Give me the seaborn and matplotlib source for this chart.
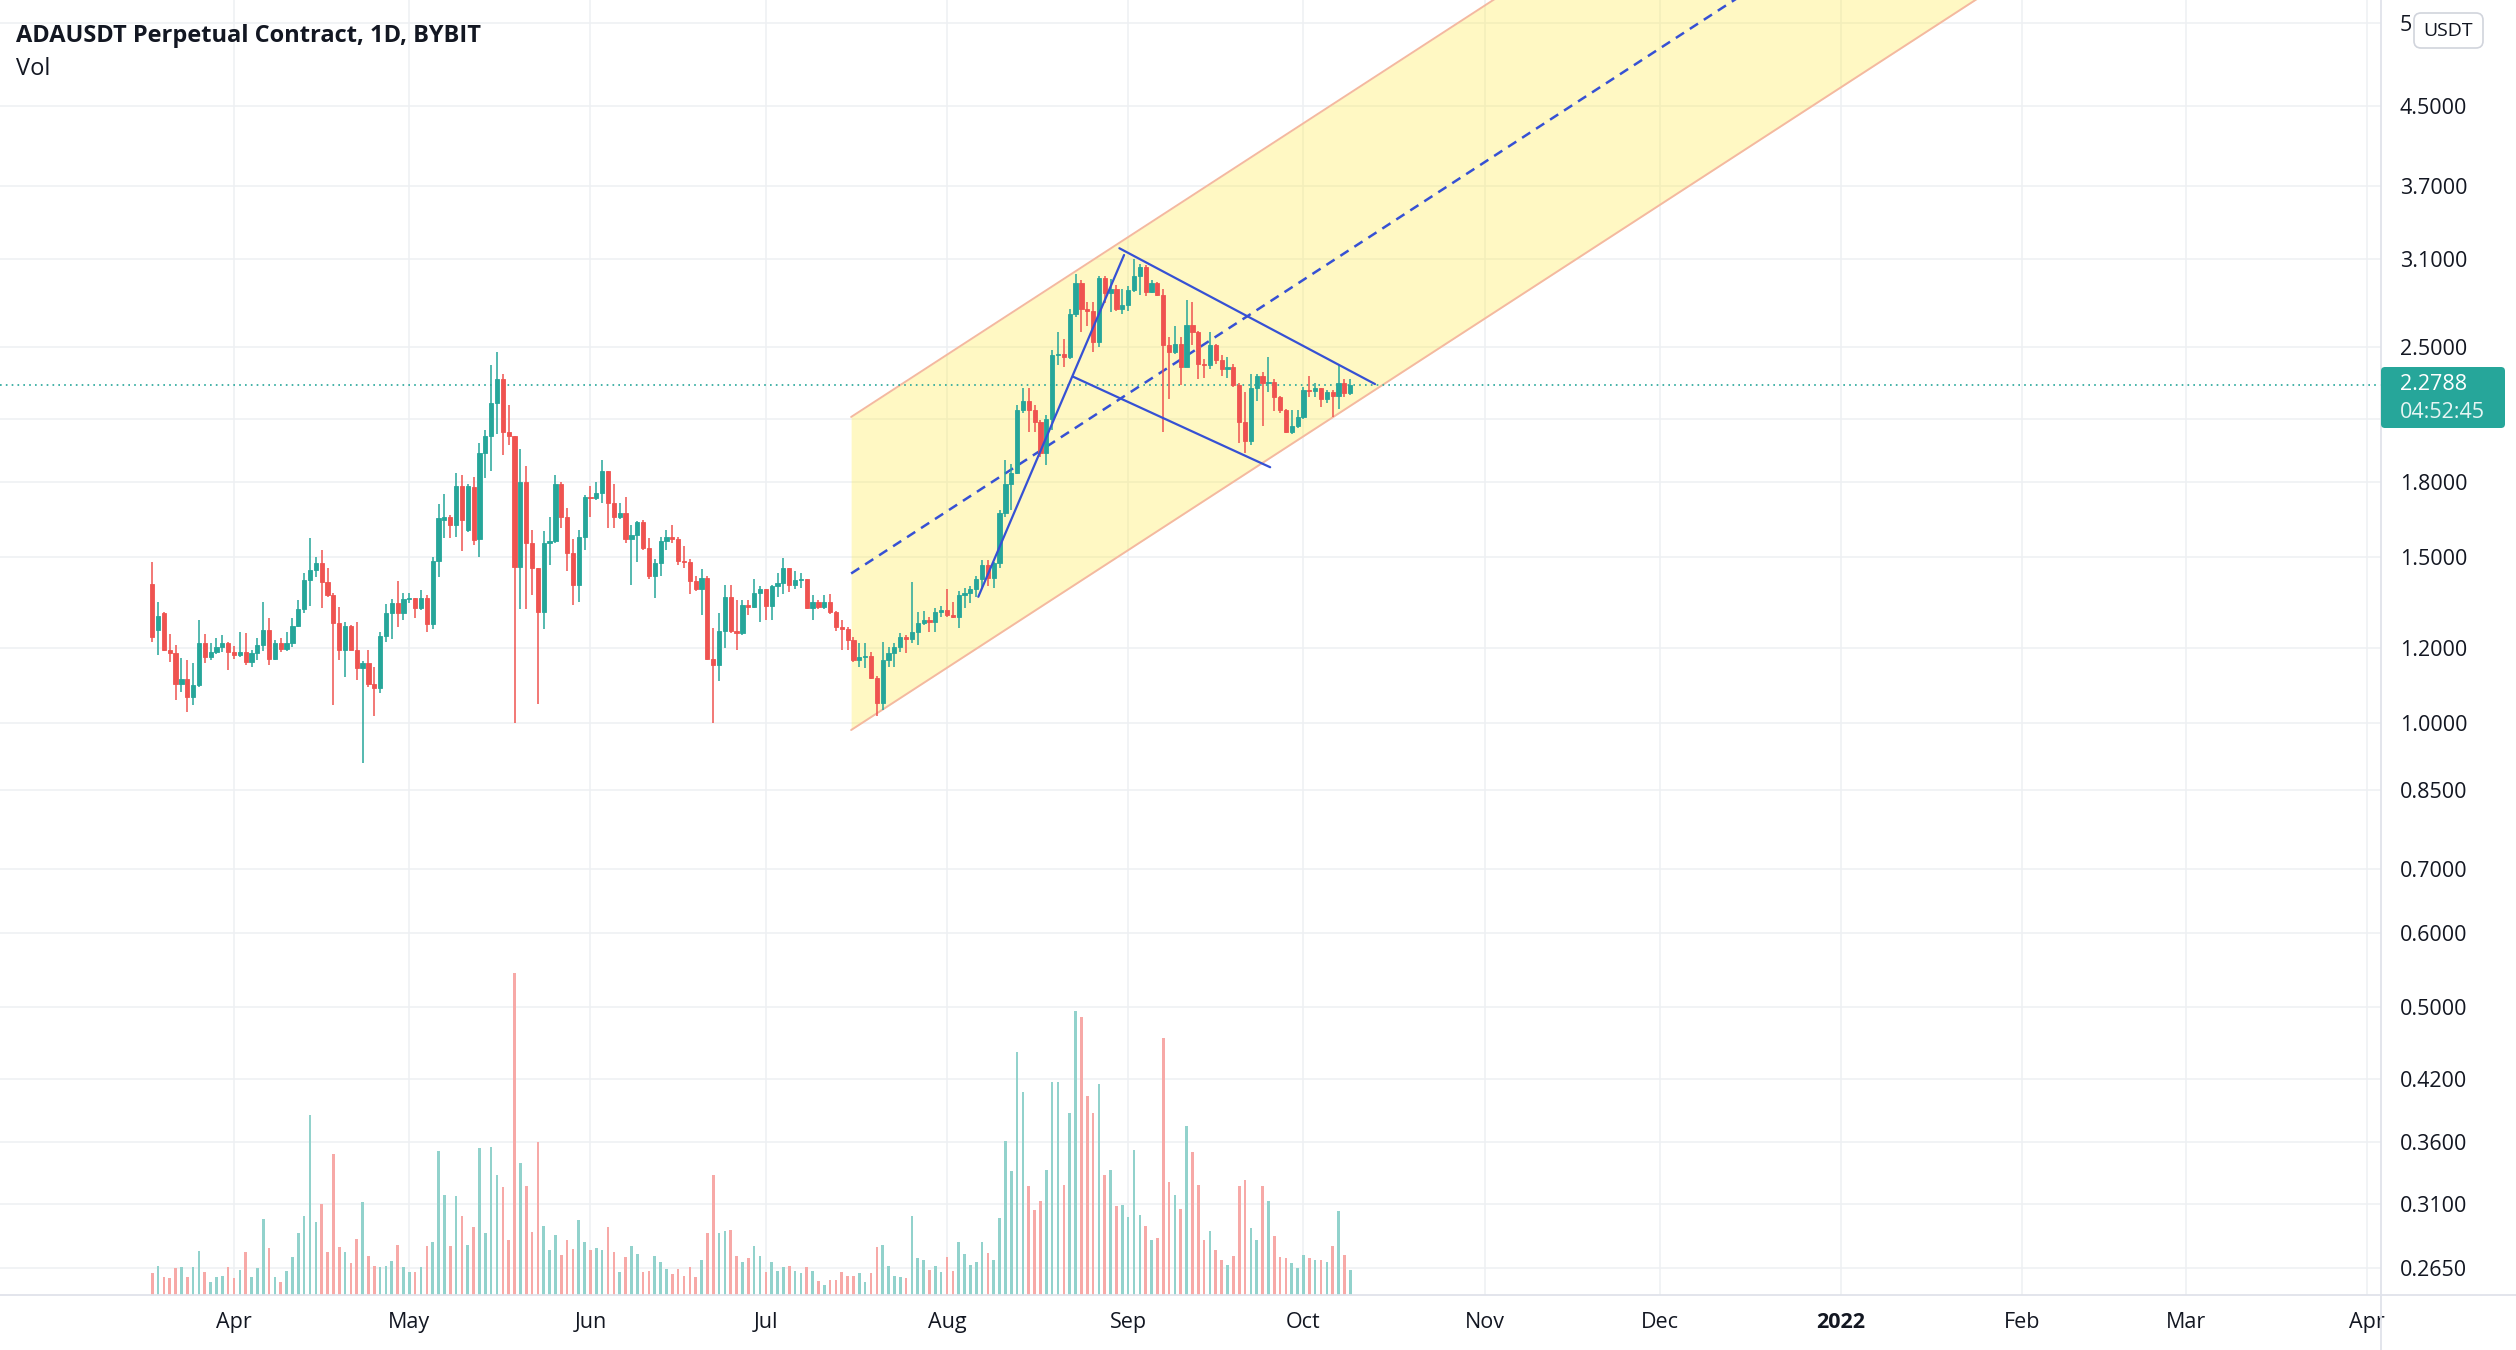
import numpy as np
import pandas as pd
import matplotlib
matplotlib.use("Agg")
import matplotlib.pyplot as plt
import matplotlib.dates as mdates
import matplotlib.transforms as mtransforms
from matplotlib.patches import FancyBboxPatch
from matplotlib.lines import Line2D
from matplotlib.ticker import NullLocator, FixedLocator
import seaborn as sns

sns.set_theme(style="white")
plt.rcParams['font.family'] = ['Open Sans', 'DejaVu Sans']
plt.rcParams['lines.scale_dashes'] = False

W, H, DPI = 2516, 1350, 100

# ---------------- data ----------------
first_day = "2021-03-18"

opens = [
    1.402, 1.254, 1.306, 1.196, 1.187, 1.101, 1.114, 1.066, 1.097, 1.214,
    1.175, 1.189, 1.204, 1.214, 1.189, 1.180, 1.189, 1.161, 1.185, 1.209,
    1.254, 1.170, 1.216, 1.199, 1.214, 1.266, 1.320, 1.417, 1.451, 1.475,
    1.411, 1.365, 1.277, 1.194, 1.266, 1.194, 1.142, 1.156, 1.101, 1.088,
    1.236, 1.306, 1.338, 1.308, 1.352, 1.355, 1.325, 1.355, 1.272, 1.485,
    1.640, 1.652, 1.620, 1.780, 1.600, 1.777, 1.565, 1.930, 2.010, 2.180,
    2.310, 2.030, 2.010, 1.463, 1.800, 1.550, 1.460, 1.310, 1.550, 1.557,
    1.790, 1.650, 1.515, 1.400, 1.575, 1.735, 1.730, 1.750, 1.850, 1.710,
    1.650, 1.670, 1.565, 1.580, 1.630, 1.530, 1.430, 1.475, 1.560, 1.575,
    1.565, 1.485, 1.480, 1.415, 1.385, 1.425, 1.170, 1.153, 1.250, 1.360,
    1.250, 1.244, 1.333, 1.328, 1.371, 1.385, 1.330, 1.395, 1.405, 1.460,
    1.400, 1.418, 1.420, 1.325, 1.344, 1.328, 1.344, 1.310, 1.262, 1.258,
    1.224, 1.166, 1.175, 1.178, 1.117, 1.050, 1.166, 1.185, 1.204, 1.234,
    1.226, 1.249, 1.277, 1.285, 1.280, 1.311, 1.318, 1.300, 1.296, 1.365,
    1.371, 1.385, 1.420, 1.470, 1.425, 1.475, 1.670, 1.790, 1.840, 2.145,
    2.190, 2.145, 2.080, 1.930, 2.100, 2.450, 2.455, 2.440, 2.710, 2.920,
    2.740, 2.730, 2.530, 2.955, 2.850, 2.880, 2.740, 2.770, 2.870, 2.970,
    3.040, 2.860, 2.920, 2.840, 2.510, 2.470, 2.520, 2.380, 2.640, 2.590,
    2.400, 2.390, 2.510, 2.420, 2.370, 2.380, 2.280, 2.080, 1.990, 2.260,
    2.330, 2.290, 2.295, 2.215, 2.145, 2.030, 2.060, 2.110, 2.250, 2.245,
    2.260, 2.200, 2.240, 2.220, 2.290, 2.235]

highs = [
    1.481, 1.344, 1.311, 1.242, 1.209, 1.173, 1.166, 1.156, 1.286, 1.242,
    1.214, 1.229, 1.239, 1.219, 1.206, 1.249, 1.244, 1.194, 1.229, 1.344,
    1.290, 1.224, 1.229, 1.249, 1.290, 1.350, 1.442, 1.568, 1.499, 1.523,
    1.458, 1.371, 1.328, 1.280, 1.269, 1.280, 1.163, 1.196, 1.147, 1.249,
    1.336, 1.352, 1.415, 1.371, 1.371, 1.355, 1.382, 1.365, 1.497, 1.707,
    1.749, 1.660, 1.840, 1.830, 1.790, 1.820, 1.980, 2.040, 2.390, 2.470,
    2.340, 2.170, 2.010, 1.950, 1.870, 1.600, 1.460, 1.595, 1.650, 1.830,
    1.800, 1.690, 1.565, 1.600, 1.744, 1.780, 1.800, 1.900, 1.850, 1.790,
    1.710, 1.735, 1.620, 1.635, 1.640, 1.570, 1.490, 1.575, 1.600, 1.620,
    1.575, 1.540, 1.490, 1.430, 1.455, 1.430, 1.260, 1.306, 1.400, 1.400,
    1.350, 1.350, 1.350, 1.420, 1.395, 1.387, 1.400, 1.440, 1.496, 1.460,
    1.450, 1.440, 1.420, 1.365, 1.350, 1.365, 1.370, 1.315, 1.285, 1.265,
    1.234, 1.214, 1.214, 1.189, 1.120, 1.219, 1.204, 1.214, 1.246, 1.239,
    1.410, 1.311, 1.314, 1.295, 1.322, 1.330, 1.385, 1.344, 1.380, 1.390,
    1.395, 1.430, 1.487, 1.487, 1.480, 1.680, 1.900, 1.880, 2.170, 2.260,
    2.260, 2.170, 2.090, 2.120, 2.480, 2.590, 2.550, 2.740, 2.990, 2.940,
    2.790, 2.790, 2.970, 2.970, 2.950, 2.910, 2.880, 2.900, 3.100, 3.060,
    3.050, 2.940, 2.930, 2.880, 2.560, 2.630, 2.560, 2.800, 2.790, 2.600,
    2.430, 2.590, 2.520, 2.450, 2.440, 2.400, 2.290, 2.240, 2.340, 2.340,
    2.350, 2.440, 2.310, 2.220, 2.150, 2.145, 2.145, 2.270, 2.330, 2.290,
    2.260, 2.250, 2.250, 2.390, 2.310, 2.310]

lows = [
    1.219, 1.180, 1.192, 1.159, 1.057, 1.079, 1.028, 1.045, 1.092, 1.156,
    1.166, 1.183, 1.189, 1.137, 1.170, 1.175, 1.153, 1.147, 1.166, 1.192,
    1.153, 1.166, 1.189, 1.192, 1.204, 1.264, 1.306, 1.330, 1.426, 1.325,
    1.360, 1.045, 1.166, 1.118, 1.194, 1.110, 0.906, 1.092, 1.016, 1.077,
    1.219, 1.227, 1.262, 1.284, 1.338, 1.292, 1.318, 1.249, 1.256, 1.426,
    1.569, 1.569, 1.575, 1.520, 1.594, 1.544, 1.499, 1.815, 1.850, 2.020,
    1.920, 1.970, 0.999, 1.320, 1.320, 1.365, 1.047, 1.257, 1.470, 1.550,
    1.610, 1.450, 1.333, 1.344, 1.525, 1.650, 1.720, 1.710, 1.610, 1.610,
    1.645, 1.550, 1.400, 1.480, 1.525, 1.420, 1.355, 1.430, 1.525, 1.550,
    1.470, 1.458, 1.370, 1.380, 1.300, 1.166, 0.999, 1.107, 1.200, 1.244,
    1.196, 1.240, 1.300, 1.323, 1.280, 1.285, 1.285, 1.360, 1.370, 1.375,
    1.385, 1.390, 1.320, 1.285, 1.320, 1.320, 1.305, 1.250, 1.194, 1.194,
    1.161, 1.147, 1.142, 1.114, 1.017, 1.033, 1.147, 1.147, 1.189, 1.187,
    1.214, 1.209, 1.269, 1.249, 1.249, 1.295, 1.295, 1.290, 1.260, 1.323,
    1.338, 1.360, 1.390, 1.395, 1.390, 1.458, 1.650, 1.680, 1.835, 2.130,
    2.030, 2.030, 1.910, 1.875, 2.040, 2.390, 2.380, 2.430, 2.690, 2.590,
    2.630, 2.470, 2.500, 2.780, 2.720, 2.730, 2.710, 2.730, 2.860, 2.840,
    2.830, 2.850, 2.830, 2.030, 2.200, 2.460, 2.280, 2.380, 2.510, 2.310,
    2.320, 2.370, 2.400, 2.330, 2.320, 2.270, 1.980, 1.930, 1.970, 2.190,
    2.060, 2.240, 2.140, 2.130, 2.025, 2.020, 2.050, 2.100, 2.215, 2.215,
    2.160, 2.180, 2.110, 2.150, 2.215, 2.225]

closes = [
    1.234, 1.297, 1.196, 1.185, 1.101, 1.114, 1.066, 1.097, 1.214, 1.175,
    1.189, 1.204, 1.214, 1.189, 1.180, 1.189, 1.161, 1.185, 1.209, 1.254,
    1.170, 1.216, 1.199, 1.214, 1.266, 1.320, 1.417, 1.451, 1.475, 1.411,
    1.365, 1.277, 1.194, 1.266, 1.194, 1.142, 1.156, 1.101, 1.088, 1.236,
    1.306, 1.338, 1.308, 1.352, 1.355, 1.325, 1.355, 1.272, 1.485, 1.649,
    1.652, 1.620, 1.780, 1.640, 1.780, 1.563, 1.930, 2.010, 2.180, 2.310,
    2.030, 2.010, 1.463, 1.800, 1.550, 1.460, 1.310, 1.550, 1.557, 1.790,
    1.650, 1.515, 1.400, 1.575, 1.735, 1.730, 1.750, 1.850, 1.710, 1.650,
    1.670, 1.565, 1.580, 1.630, 1.530, 1.430, 1.475, 1.560, 1.575, 1.565,
    1.485, 1.480, 1.415, 1.385, 1.425, 1.170, 1.153, 1.250, 1.360, 1.250,
    1.244, 1.333, 1.328, 1.371, 1.385, 1.330, 1.395, 1.405, 1.460, 1.400,
    1.418, 1.420, 1.325, 1.344, 1.328, 1.344, 1.310, 1.262, 1.258, 1.224,
    1.166, 1.175, 1.178, 1.117, 1.050, 1.166, 1.185, 1.204, 1.234, 1.226,
    1.249, 1.277, 1.285, 1.280, 1.311, 1.318, 1.300, 1.296, 1.365, 1.371,
    1.385, 1.420, 1.470, 1.425, 1.475, 1.670, 1.790, 1.840, 2.145, 2.190,
    2.145, 2.080, 1.930, 2.100, 2.450, 2.455, 2.440, 2.710, 2.920, 2.740,
    2.730, 2.530, 2.955, 2.850, 2.880, 2.740, 2.770, 2.870, 2.970, 3.040,
    2.860, 2.920, 2.840, 2.510, 2.470, 2.520, 2.380, 2.640, 2.590, 2.400,
    2.390, 2.510, 2.420, 2.370, 2.380, 2.280, 2.080, 1.990, 2.260, 2.330,
    2.290, 2.295, 2.215, 2.145, 2.030, 2.060, 2.110, 2.250, 2.245, 2.260,
    2.200, 2.240, 2.220, 2.290, 2.235, 2.2788]

# volume (millions, arbitrary units)
volumes = [
    6.6, 8.8, 5.3, 5.0, 8.0, 8.3, 5.3, 8.3, 13.3, 7.0,
    4.0, 5.3, 5.8, 8.3, 5.0, 7.6, 13.0, 5.3, 8.0, 22.8,
    14.0, 5.3, 4.0, 7.3, 11.3, 18.5, 23.6, 54.1, 21.8, 27.2,
    13.0, 42.3, 14.3, 13.0, 9.5, 16.8, 27.8, 11.8, 8.6, 8.3,
    8.8, 10.3, 15.1, 8.5, 7.0, 6.8, 8.3, 14.6, 15.8, 43.3,
    30.1, 14.6, 29.6, 23.8, 15.1, 20.5, 44.0, 18.5, 44.3, 36.1,
    32.3, 16.5, 96.5, 39.5, 32.8, 18.8, 46.0, 20.6, 13.5, 18.1,
    12.0, 16.6, 13.8, 22.5, 15.8, 13.6, 14.1, 13.5, 20.3, 12.8,
    7.0, 11.3, 14.8, 12.3, 6.8, 7.3, 11.8, 10.0, 7.8, 6.3,
    7.8, 5.8, 8.3, 5.3, 10.6, 18.6, 36.0, 18.5, 19.1, 19.6,
    11.6, 10.0, 11.0, 14.6, 11.8, 6.8, 10.0, 7.1, 8.3, 8.8,
    7.1, 6.6, 8.5, 7.3, 4.3, 3.1, 4.6, 4.6, 7.0, 5.6,
    5.6, 6.5, 4.0, 6.5, 14.5, 15.1, 8.6, 5.6, 5.3, 5.0,
    23.6, 11.0, 10.6, 7.6, 8.6, 6.8, 11.5, 7.3, 16.0, 12.3,
    9.1, 9.8, 16.0, 12.6, 10.6, 23.0, 46.3, 37.3, 72.8, 60.8,
    32.8, 25.5, 28.3, 37.6, 64.0, 63.8, 33.0, 54.7, 85.1, 83.3,
    59.6, 54.7, 63.2, 36.0, 37.6, 26.6, 27.1, 23.3, 43.6, 24.1,
    20.8, 16.5, 17.0, 77.0, 34.0, 30.1, 25.8, 50.6, 42.8, 33.1,
    16.6, 19.3, 13.6, 10.6, 9.1, 11.8, 32.8, 34.5, 20.0, 16.5,
    32.8, 28.3, 17.8, 11.3, 11.0, 9.5, 8.0, 12.1, 11.0, 10.6,
    10.5, 9.8, 14.6, 25.3, 12.1, 7.6]

price_ticks = [0.265, 0.31, 0.36, 0.42, 0.5, 0.6, 0.7, 0.85, 1.0, 1.2,
               1.5, 1.8, 2.1, 2.5, 3.1, 3.7, 4.5, 5.5]
# labels as visible: 2.1000 is hidden behind the price box, 5.5000 behind the USDT box
price_labels = ["0.2650", "0.3100", "0.3600", "0.4200", "0.5000", "0.6000",
                "0.7000", "0.8500", "1.0000", "1.2000", "1.5000", "1.8000",
                "", "2.5000", "3.1000", "3.7000", "4.5000", "5"]
month_ticks = ["2021-04-01", "2021-05-01", "2021-06-01", "2021-07-01",
               "2021-08-01", "2021-09-01", "2021-10-01", "2021-11-01",
               "2021-12-01", "2022-01-01", "2022-02-01", "2022-03-01",
               "2022-04-01"]
month_labels = ["Apr", "May", "Jun", "Jul", "Aug", "Sep", "Oct", "Nov",
                "Dec", "2022", "Feb", "Mar", "Apr"]

last_price = 2.2788
countdown = "04:52:45"
title = "ADAUSDT Perpetual Contract, 1D, BYBIT"

# parallel channel (anchored at its left edge)
chan_start = "2021-07-15 14:24"
chan_top0 = 2.108
chan_bot0 = 0.983
chan_daily_growth = 1.00929

# flag drawing
pole_dates = ["2021-08-06 08:38", "2021-08-31 07:12"]
pole_prices = [1.360, 3.128]
flag_top_dates = ["2021-08-30 12:00", "2021-10-13 05:45"]
flag_top_prices = [3.18, 2.284]
flag_low_dates = ["2021-08-22 14:24", "2021-09-25 07:12"]
flag_low_prices = [2.325, 1.865]

x_range = ["2021-02-19 23:00", "2022-04-03 09:07"]
y_range = [0.2481, 5.823]

# ---------------- styling ----------------
TEAL = "#26a69a"
RED = "#ef5350"
VTEAL = "#92d2cc"
VRED = "#f7a9a7"
BLUE = "#3651d4"
SALMON = "#f4b9a0"
GRID = "#eef0f3"
TXT = "#131722"
DIV = "#e0e3eb"
FS = 15.5

def dnum(s):
    return mdates.date2num(pd.to_datetime(s))

o = np.array(opens); c = np.array(closes)
h = np.maximum(np.array(highs), np.maximum(o, c))
l = np.minimum(np.array(lows), np.minimum(o, c))
dates = pd.date_range(first_day, periods=len(o), freq="D")
xd = mdates.date2num(dates)
up = c >= o
ccol = np.where(up, TEAL, RED)
vcol = np.where(up, VTEAL, VRED)

fig = plt.figure(figsize=(W / DPI, H / DPI), dpi=DPI, facecolor="white")
rect = [0, 55 / H, 2381 / W, 1295 / H]
ax = fig.add_axes(rect)
ax.set_facecolor("white")
ax.set_yscale("log")

# channel
t0 = dnum(chan_start)
t1 = dnum(x_range[1])
g = chan_daily_growth ** (t1 - t0)
chan_mid0 = np.sqrt(chan_top0 * chan_bot0)
ax.fill_between([t0, t1], [chan_bot0, chan_bot0 * g], [chan_top0, chan_top0 * g],
                color="#ffeb3b", alpha=0.3, lw=0, zorder=1)
ax.plot([t0, t1], [chan_top0, chan_top0 * g], color=SALMON, lw=1.4, zorder=1.5)
ax.plot([t0, t1], [chan_bot0, chan_bot0 * g], color=SALMON, lw=1.4, zorder=1.5)
ax.plot([t0, t1], [chan_mid0, chan_mid0 * g], color=BLUE, lw=1.8,
        ls=(0, (7, 5)), zorder=1.6)

# price line
ax.axhline(last_price, color=TEAL, lw=1.2, ls=(0, (1.2, 3.0)), zorder=2.5)

# candles
ax.vlines(xd, l, h, colors=ccol, linewidth=1.1, zorder=3)
ax.bar(xd, np.abs(c - o), bottom=np.minimum(o, c), width=0.72, color=ccol,
       edgecolor=ccol, linewidth=0.6, zorder=3)

# flag lines
for dd, pp in [(pole_dates, pole_prices), (flag_top_dates, flag_top_prices),
               (flag_low_dates, flag_low_prices)]:
    sns.lineplot(x=dnum(dd), y=pp, ax=ax, color=BLUE, lw=1.6, zorder=4)

ax.set_xlim(dnum(x_range[0]), dnum(x_range[1]))
ax.set_ylim(*y_range)
ax.set_xlabel(""); ax.set_ylabel("")

# grid & ticks
ax.set_axisbelow(True)
ax.yaxis.tick_right()
ax.yaxis.set_major_locator(FixedLocator(price_ticks))
ax.yaxis.set_minor_locator(NullLocator())
ax.set_yticklabels(price_labels)
ax.set_xticks(dnum(month_ticks))
ax.set_xticklabels(month_labels)
ax.xaxis.set_minor_locator(NullLocator())
ax.tick_params(axis="y", which="both", length=0, pad=13.5, labelsize=FS,
               labelcolor=TXT)
ax.tick_params(axis="x", which="both", length=0, pad=12, labelsize=FS,
               labelcolor=TXT)
for t in ax.get_xticklabels():
    if t.get_text() == "2022":
        t.set_fontweight("bold")
ax.grid(True, which="major", color=GRID, linewidth=1.1)
for s in ax.spines.values():
    s.set_visible(False)

# volume overlay
ax2 = fig.add_axes(rect, sharex=ax, facecolor="none")
ax2.bar(xd, volumes, width=0.45, color=vcol, linewidth=0)
ax2.set_ylim(0, max(volumes) * 1295 / 321.7)
ax2.axis("off")
ax2.set_xlim(dnum(x_range[0]), dnum(x_range[1]))

# figure-level decorations in pixel coords (origin bottom-left)
px = mtransforms.Affine2D().scale(1 / W, 1 / H) + fig.transFigure
fig.add_artist(Line2D([0, W], [H - 1295, H - 1295], color=DIV, lw=1.3, transform=px))
fig.add_artist(Line2D([2381, 2381], [0, H], color=DIV, lw=1.3, transform=px))

fig.add_artist(FancyBboxPatch((2381, H - 428), 124, 61,
                              boxstyle="round,pad=0,rounding_size=4",
                              fc=TEAL, ec="none", transform=px, zorder=5))
fig.text(2400, H - 384, f"{last_price:.4f}", transform=px, color="white",
         fontsize=FS, va="center", ha="left", zorder=6)
fig.text(2400, H - 412, countdown, transform=px, color="#e6f5f3",
         fontsize=FS, va="center", ha="left", zorder=6)

fig.add_artist(FancyBboxPatch((2414, H - 48), 69, 35,
                              boxstyle="round,pad=0,rounding_size=7",
                              fc="white", ec="#d1d4dc", lw=1.2, transform=px, zorder=5))
fig.text(2448.5, H - 31, "USDT", transform=px, color=TXT, fontsize=14,
         va="center", ha="center", zorder=6)

fig.text(16, H - 41.5, title, transform=px, color=TXT, fontsize=17,
         fontweight="bold", va="baseline", ha="left")
fig.text(16, H - 75, "Vol", transform=px, color=TXT, fontsize=17,
         va="baseline", ha="left")

fig.savefig("out.png", dpi=DPI, facecolor="white")
